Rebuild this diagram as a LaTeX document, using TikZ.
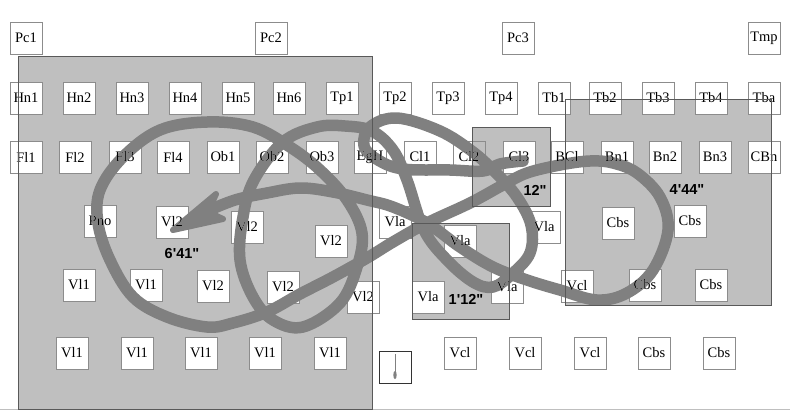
\documentclass[tikz,border=0pt]{standalone}
\usepackage{fontspec}
\setmainfont{Liberation Serif}
\newfontfamily\timingfont{Liberation Sans}
\usetikzlibrary{positioning}
\tikzset{
  inst/.style={draw=black!45,line width=0.8pt,fill=white,minimum size=32pt,inner sep=0pt,font=\fontsize{14.5}{14.5}\selectfont},
  zone/.style={fill=black!25},
  zoneline/.style={draw=black!65,line width=0.9pt},
  timing/.style={inner sep=0pt,font=\timingfont\bfseries\fontsize{14.5}{14.5}\selectfont},
  gesture/.style={draw=black!50,line width=11.5pt,line cap=round,line join=round,blend mode=darken}
}
\begin{document}
\begin{tikzpicture}[x=1pt,y=-1pt]
  \useasboundingbox (0,0) rectangle (790,410);
  \fill[white] (0,0) rectangle (790,410);
  \draw[black!25,line width=0.8pt] (0,409) -- (790,409);
  % sections of the orchestra
  \fill[zone] (18,56) rectangle (372,409);
  \fill[zone] (412,223) rectangle (509,319);
  \fill[zone] (565,99) rectangle (771,305);
  % top rows
  \foreach \name/\x in {Pc1/26,Pc2/271,Pc3/518,Tmp/764}
    \node[inst] (\name) at (\x,38) {\name};
  \foreach \name/\x in {Hn1/26,Hn2/79,Hn3/132,Hn4/185,Hn5/238,Hn6/289,Tp1/342,Tp2/395,Tp3/448,Tp4/501,Tb1/554,Tb2/605,Tb3/658,Tb4/711,Tba/764}
    \node[inst] (\name) at (\x,98) {\name};
  \foreach \name/\x in {Fl1/26,Fl2/75,Fl3/125,Fl4/173,Ob1/223,Ob2/272,Ob3/322,EgH/370,Cl1/420,Cl2/469,BCl/567,Bn1/617,Bn2/665,Bn3/715,CBn/764}
    \node[inst] (\name) at (\x,157) {\name};
  % strings
  \node[inst] (Pno) at (100,221) {Pno};
  \foreach \id/\txt/\x/\y in {a/Vl2/172/222,b/Vl2/247/227,c/Vl2/331/241,d/Vla/395/222,e/Vla/460/241,f/Vla/544/227,g/Cbs/618/223,h/Cbs/690/221,
      i/Vl1/79/285,j/Vl1/146/285,k/Vl2/213/286,l/Vl2/283/287,m/Vl2/363/297,n/Vla/428/297,o/Vla/507/287,p/Vcl/577/286,q/Cbs/645/285,r/Cbs/711/285,
      s/Vl1/72/353,t/Vl1/137/353,u/Vl1/201/353,v/Vl1/265/353,w/Vl1/330/353,x/Vcl/460/353,y/Vcl/525/353,z/Vcl/590/353,aa/Cbs/654/353,ab/Cbs/719/353}
    \node[inst] (str\id) at (\x,\y) {\txt};
  \fill[zone,blend mode=darken] (472,127) rectangle (550,206);
  \node[inst] (Cl3) at (519,157) {Cl3};
  \draw[zoneline] (18,56) rectangle (372,409);
  \draw[zoneline] (472,127) rectangle (550,206);
  \draw[zoneline] (412,223) rectangle (509,319);
  \draw[zoneline] (565,99) rectangle (771,305);
  % clef box
  \node[draw=black!80,line width=1pt,minimum size=32pt,inner sep=0pt] (clef) at (395,367) {};
  \draw[black!50,line width=0.7pt] (395,354) -- (395,372);
  \fill[black!50] (395,375) ellipse (1.7pt and 4pt);
  % timings
  \node[timing] (tA) at (182,254) {6'41"};
  \node[timing] (tB) at (535,190) {12"};
  \node[timing] (tC) at (687,190) {4'44"};
  \node[timing] (tD) at (466,299) {1'12"};
  % conductor's gesture
  \draw[gesture] plot[smooth,tension=0.6] coordinates {
    (523,161) (500,164) (483,171) (450,170) (403,169) (378,160) (364,146) (370,127) (397,118) (440,131) (473,152)
    (497,174) (517,197) (531,225) (530,253) (512,274) (493,287) (473,282) (447,260) (424,230) (407,180) (393,150) (372,131)
    (345,126) (317,127) (283,142) (254,180) (243,217) (240,260) (253,297) (273,320) (303,327) (340,303) (357,267) (362,233)
    (347,200) (320,170) (290,147) (253,127) (207,122) (160,130) (123,157) (100,190) (98,223) (110,260) (133,297) (167,317)
    (207,327) (233,323) (267,312) (300,294) (333,277) (367,258) (393,242) (427,223) (470,203) (503,185) (527,173) (560,165)
    (590,161) (613,163) (637,173) (660,197) (668,230) (653,270) (627,293) (597,300) (560,290) (527,280) (493,267) (460,247)
    (427,223) (393,207) (367,200) (333,192) (300,188) (267,193) (235,200) (205,212) };
  \filldraw[draw=black!50,fill=black!50,line width=6pt,line join=round,blend mode=darken]
    (173,230) -- (216,194) -- (208,212) -- (223,219) -- cycle;
\end{tikzpicture}
\end{document}
